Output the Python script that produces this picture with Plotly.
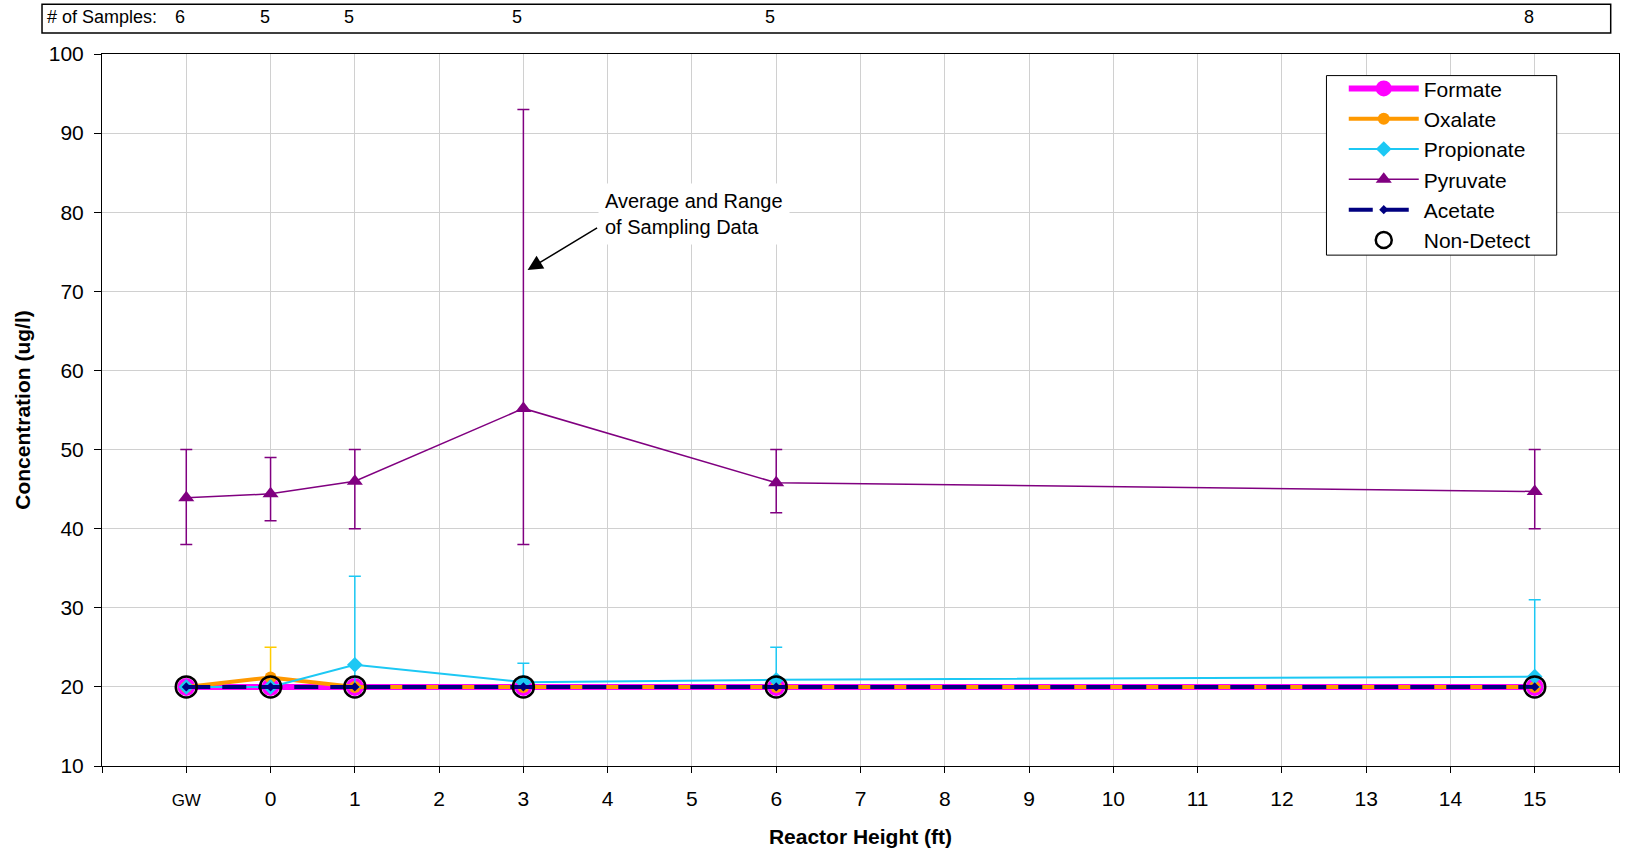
import plotly.graph_objects as go

# ---------------- data ----------------
x_pos = [-1, 0, 1, 3, 6, 15]                      # GW, 0, 1, 3, 6, 15 ft
tick_vals = [-2, -1, 0, 1, 2, 3, 4, 5, 6, 7, 8, 9, 10, 11, 12, 13, 14, 15, 16]
tick_text = ["", "<span style='font-size:17px'>GW</span>", "0", "1", "2", "3", "4", "5",
             "6", "7", "8", "9", "10", "11", "12", "13", "14", "15", ""]
samples = [6, 5, 5, 5, 5, 8]

formate = [20, 20, 20, 20, 20, 20]
oxalate = [20, 21.2, 20, 20, 20, 20]
oxalate_hi = [20, 25, 20, 20, 20, 20]
propionate = [20, 20, 22.8, 20.6, 20.9, 21.3]
propionate_hi = [20, 20, 34, 23, 25, 31]
propionate_lo = [20, 20, 20, 20, 20, 20]
pyruvate = [43.9, 44.4, 46.0, 55.2, 45.8, 44.7]
pyruvate_hi = [50, 49, 50, 93, 50, 50]
pyruvate_lo = [38, 41, 40, 38, 42, 40]
acetate = [20, 20, 20, 20, 20, 20]
non_detect = [20, 20, 20, 20, 20, 20]

FONT = "Liberation Sans, Arial, sans-serif"

def plus(v, hi):
    return [h - a for a, h in zip(v, hi)]

def minus(v, lo):
    return [a - l for a, l in zip(v, lo)]

fig = go.Figure()

fig.add_trace(go.Scatter(
    x=x_pos, y=formate, name="Formate", mode="lines+markers",
    line=dict(color="#FF00FF", width=6),
    marker=dict(symbol="circle", size=18, color="#FF00FF")))

fig.add_trace(go.Scatter(
    x=x_pos, y=oxalate, name="Oxalate", mode="lines+markers",
    line=dict(color="#FF9900", width=4),
    marker=dict(symbol="circle", size=12, color="#FF9900"),
    error_y=dict(type="data", symmetric=False, array=plus(oxalate, oxalate_hi),
                 arrayminus=[0, 0, 0, 0, 0, 0], color="#FFCC00", thickness=1.5, width=6)))

fig.add_trace(go.Scatter(
    x=x_pos, y=propionate, name="Propionate", mode="lines+markers",
    line=dict(color="#1CC8F4", width=2),
    marker=dict(symbol="diamond", size=12, color="#1CC8F4"),
    error_y=dict(type="data", symmetric=False, array=plus(propionate, propionate_hi),
                 arrayminus=minus(propionate, propionate_lo), color="#1CC8F4",
                 thickness=1.5, width=6)))

fig.add_trace(go.Scatter(
    x=x_pos, y=pyruvate, name="Pyruvate", mode="lines+markers",
    line=dict(color="#800080", width=1.5),
    marker=dict(symbol="triangle-up", size=14, color="#800080"),
    error_y=dict(type="data", symmetric=False, array=plus(pyruvate, pyruvate_hi),
                 arrayminus=minus(pyruvate, pyruvate_lo), color="#800080",
                 thickness=1.5, width=6)))

fig.add_trace(go.Scatter(
    x=x_pos, y=acetate, name="Acetate", mode="lines+markers",
    line=dict(color="#000080", width=4, dash="24px,12px"),
    marker=dict(symbol="diamond", size=7, color="#000080")))

fig.add_trace(go.Scatter(
    x=x_pos, y=non_detect, name="Non-Detect", mode="markers",
    marker=dict(symbol="circle-open", size=21, color="black",
                line=dict(color="black", width=2.5))))

# pixel -> paper helpers
L, R, T, B = 102, 1619.3, 53.7, 766.3
W, H = R - L, B - T

def px_x(p):
    return (p - L) / W

def px_y(p):
    return (B - p) / H

# sample count box above plot
fig.add_shape(type="rect", xref="paper", yref="paper",
              x0=px_x(42), x1=px_x(1611), y0=px_y(32.7), y1=px_y(4),
              line=dict(color="black", width=1.5), fillcolor="white", layer="above")
fig.add_annotation(xref="paper", yref="paper", x=px_x(45), y=px_y(17),
                   xanchor="left", yanchor="middle", showarrow=False,
                   text="# of Samples:", font=dict(family=FONT, size=18, color="black"))
for xv, n in zip(x_pos, samples):
    fig.add_annotation(xref="x", yref="paper", x=xv - 0.07, y=px_y(17),
                       xanchor="center", yanchor="middle", showarrow=False,
                       text=str(n), font=dict(family=FONT, size=18, color="black"))

# legend frame
fig.add_shape(type="rect", xref="paper", yref="paper",
              x0=px_x(1326.7), x1=px_x(1557), y0=px_y(255), y1=px_y(75.3),
              line=dict(color="black", width=1), fillcolor="white", layer="above")

# callout
fig.add_annotation(xref="x", yref="y", x=3.05, y=72.7, ax=71, ay=-43,
                   axref="pixel", ayref="pixel", text="", showarrow=True,
                   arrowhead=2, arrowsize=2, arrowwidth=1.5, arrowcolor="black")
fig.add_annotation(xref="x", yref="y", x=3.88, y=79.75, xanchor="left", yanchor="middle",
                   showarrow=False, align="left", bgcolor="white", borderpad=6,
                   text="Average and Range<br>of Sampling Data",
                   font=dict(family=FONT, size=20, color="black"))

fig.update_layout(
    width=1627, height=858,
    margin=dict(l=102, r=8, t=54, b=92, autoexpand=False),
    paper_bgcolor="white", plot_bgcolor="white",
    font=dict(family=FONT, color="black"),
    showlegend=True,
    legend=dict(x=px_x(1344), y=px_y(68), xanchor="left", yanchor="top",
                bgcolor="rgba(0,0,0,0)", borderwidth=0,
                font=dict(family=FONT, size=21, color="black"),
                itemwidth=70, tracegroupgap=0),
    xaxis=dict(range=[-2, 16], tickmode="array", tickvals=tick_vals, ticktext=tick_text,
               showgrid=True, gridcolor="#D0D0D0", gridwidth=1,
               showline=True, linecolor="black", linewidth=1, mirror=True,
               ticks="outside", ticklen=6, tickcolor="black",
               tickfont=dict(family=FONT, size=21, color="black"),
               ticklabelstandoff=8, zeroline=False,
               title=dict(text="<b>Reactor Height (ft)</b>", standoff=20,
                          font=dict(family=FONT, size=21, color="black"))),
    yaxis=dict(range=[10, 100], tickmode="array",
               tickvals=[10, 20, 30, 40, 50, 60, 70, 80, 90, 100],
               showgrid=True, gridcolor="#D0D0D0", gridwidth=1,
               showline=True, linecolor="black", linewidth=1, mirror=True,
               ticks="outside", ticklen=7, tickcolor="black",
               tickfont=dict(family=FONT, size=21, color="black"),
               ticklabelstandoff=6, zeroline=False,
               title=dict(text="<b>Concentration (ug/l)</b>", standoff=12,
                          font=dict(family=FONT, size=21, color="black"))),
)

fig.write_html("out.html")
